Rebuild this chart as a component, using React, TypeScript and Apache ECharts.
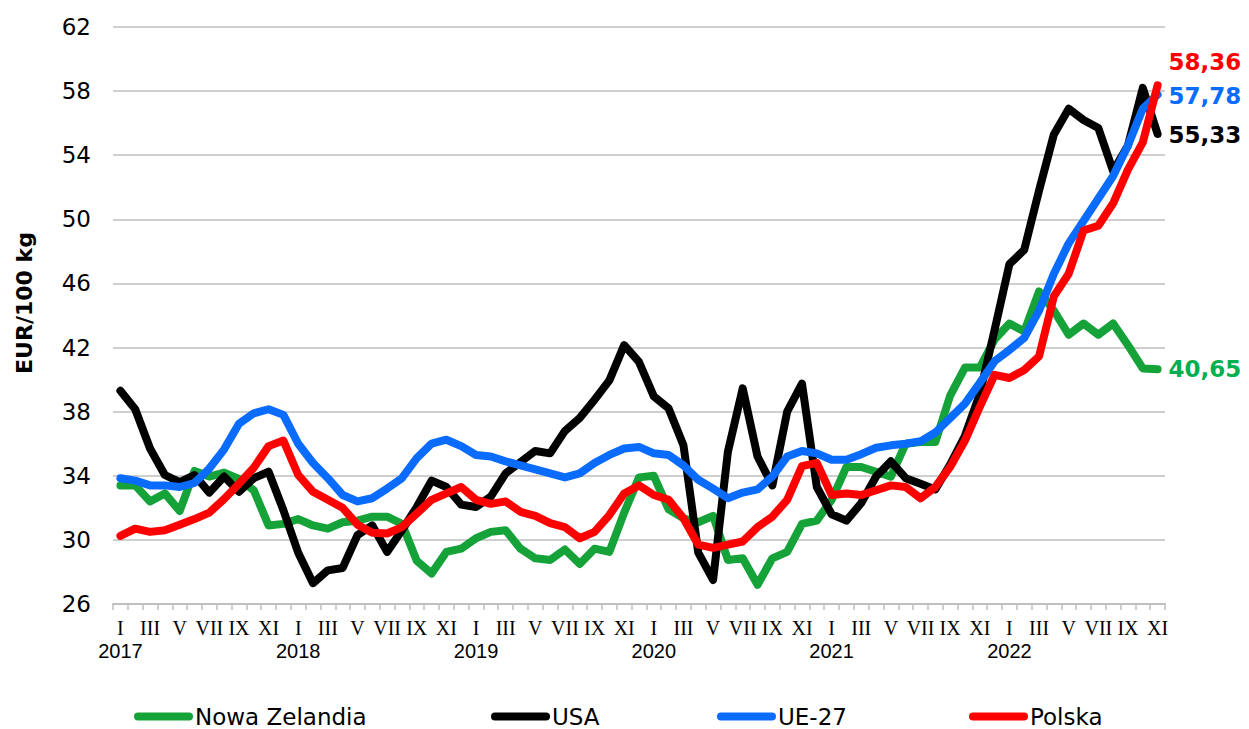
import React, { useEffect, useRef } from 'react';
import * as echarts from 'echarts';

const monthLabels = ['I', 'II', 'III', 'IV', 'V', 'VI', 'VII', 'VIII', 'IX', 'X', 'XI', 'XII'];
const yearLabels = ['2017', '2018', '2019', '2020', '2021', '2022'];
const categories = yearLabels.flatMap((y) => monthLabels.map((m) => `${m} ${y}`)).slice(0, 71);

const seriesNames = ['Nowa Zelandia', 'USA', 'UE-27', 'Polska'];

const nowaZelandia = [
  33.4, 33.4, 32.4, 32.9, 31.8, 34.3, 33.95, 34.2, 33.8, 33.1, 30.9, 31.0,
  31.3, 30.9, 30.7, 31.1, 31.2, 31.45, 31.45, 31.0, 28.7, 27.9, 29.25, 29.45,
  30.1, 30.5, 30.6, 29.45, 28.85, 28.75, 29.4, 28.5, 29.45, 29.25, 31.7, 33.9,
  34.0, 31.9, 31.35, 31.1, 31.5, 28.75, 28.85, 27.2, 28.85, 29.25, 31.0, 31.2,
  32.5, 34.55, 34.55, 34.25, 33.95, 36.0, 36.1, 36.1, 39.0, 40.75, 40.75, 42.5,
  43.5, 43.0, 45.5, 44.3, 42.8, 43.5, 42.8, 43.5, 42.15, 40.7, 40.65,
];

const usa = [
  39.3, 38.15, 35.7, 34.05, 33.6, 34.05, 32.95, 33.95, 33.0, 33.85, 34.25, 31.85,
  29.2, 27.3, 28.1, 28.25, 30.3, 30.9, 29.25, 30.6, 32.05, 33.7, 33.3, 32.2,
  32.05, 32.7, 34.15, 34.85, 35.55, 35.4, 36.8, 37.6, 38.75, 39.95, 42.15, 41.1,
  38.95, 38.2, 35.9, 29.2, 27.5, 35.5, 39.45, 35.2, 33.4, 38.0, 39.75, 33.3,
  31.6, 31.2, 32.3, 33.95, 34.9, 33.85, 33.5, 33.15, 34.7, 36.5, 39.1, 43.1,
  47.2, 48.1, 51.8, 55.3, 56.9, 56.2, 55.7, 53.0, 54.6, 58.2, 55.33,
];

const ue27 = [
  33.85, 33.7, 33.4, 33.4, 33.3, 33.55, 34.45, 35.65, 37.25, 37.9, 38.15, 37.8,
  36.0, 34.8, 33.85, 32.8, 32.4, 32.6, 33.2, 33.85, 35.1, 36.0, 36.25, 35.85,
  35.3, 35.2, 34.9, 34.65, 34.4, 34.15, 33.9, 34.15, 34.8, 35.3, 35.7, 35.8,
  35.4, 35.3, 34.65, 33.75, 33.2, 32.6, 32.95, 33.15, 33.95, 35.2, 35.55, 35.4,
  35.0, 35.0, 35.35, 35.75, 35.9, 36.0, 36.15, 36.7, 37.6, 38.5, 39.8, 41.15,
  41.85, 42.6, 44.3, 46.6, 48.5, 49.9, 51.3, 52.7, 54.6, 56.9, 57.78,
];

const polska = [
  30.25, 30.7, 30.5, 30.6, 30.95, 31.3, 31.7, 32.55, 33.5, 34.5, 35.85, 36.2,
  34.05, 33.0, 32.5, 32.0, 30.95, 30.45, 30.4, 30.8, 31.65, 32.5, 32.9, 33.3,
  32.5, 32.25, 32.4, 31.75, 31.5, 31.05, 30.8, 30.1, 30.5, 31.55, 32.9, 33.4,
  32.8, 32.5, 31.35, 29.7, 29.5, 29.7, 29.9, 30.8, 31.45, 32.5, 34.6, 34.8,
  32.8, 32.9, 32.8, 33.1, 33.4, 33.3, 32.6, 33.3, 34.55, 36.2, 38.3, 40.3,
  40.1, 40.6, 41.45, 45.2, 46.6, 49.3, 49.6, 51.0, 53.1, 54.8, 58.36,
];

const seriesValues = [nowaZelandia, usa, ue27, polska];
const lineColors = ['#14A239', '#000000', '#0A6CFF', '#FF0000'];
const labelColors = ['#00B050', '#000000', '#0A6CFF', '#FF0000'];
const labelOffsets = [[0, 0], [0, 1], [0, 1], [0, -23]];
const legendLefts = [134, 491, 717, 969];

const legendIcon = 'path://M4,0L55,0A4,4,0,0,1,55,8L4,8A4,4,0,0,1,4,0Z';

export default function App() {
  const ref = useRef<HTMLDivElement>(null);

  useEffect(() => {
    document.body.style.margin = '0';
    if (!ref.current) return;
    const chart = echarts.init(ref.current, undefined, { renderer: 'svg' });

    const series = seriesNames.map((name, k) => ({
      name,
      type: 'line',
      xAxisIndex: 0,
      data: seriesValues[k],
      showSymbol: false,
      symbol: 'none',
      lineStyle: { color: lineColors[k], width: 8, cap: 'round', join: 'round' },
      itemStyle: { color: lineColors[k] },
      endLabel: {
        show: true,
        formatter: (p: any) => Number(p.value).toFixed(2).replace('.', ','),
        color: labelColors[k],
        fontFamily: 'DejaVu Sans',
        fontWeight: 'bold',
        fontSize: 23,
        distance: 11,
        offset: labelOffsets[k],
      },
      emphasis: { disabled: true },
    }));

    const legends = seriesNames.map((name, k) => ({
      data: [name],
      left: legendLefts[k],
      top: 705,
      orient: 'horizontal',
      icon: legendIcon,
      itemWidth: 59,
      itemHeight: 8,
      itemGap: 0,
      padding: 0,
      selectedMode: false,
      itemStyle: { color: lineColors[k] },
      textStyle: {
        fontFamily: 'DejaVu Sans',
        fontSize: 23,
        lineHeight: 23,
        color: '#000',
        padding: [0, 0, 0, -3],
      },
    }));

    chart.setOption({
      animation: false,
      backgroundColor: '#ffffff',
      grid: { left: 113, right: 84, top: 27, bottom: 125, containLabel: false },
      legend: legends,
      graphic: [
        {
          type: 'text',
          x: 24,
          y: 303,
          rotation: Math.PI / 2,
          style: {
            text: 'EUR/100 kg',
            fontFamily: 'DejaVu Sans',
            fontWeight: 'bold',
            fontSize: 22,
            fill: '#000',
            textAlign: 'center',
            textVerticalAlign: 'middle',
          },
        },
      ],
      xAxis: [
        {
          type: 'category',
          data: categories,
          boundaryGap: true,
          axisLine: { show: true, lineStyle: { color: '#bfbfbf', width: 2 } },
          axisTick: { show: true, interval: 0, length: 6, lineStyle: { color: '#bfbfbf', width: 1.5 } },
          splitLine: { show: false },
          axisLabel: {
            interval: 1,
            margin: 12,
            showMinLabel: true,
            showMaxLabel: true,
            formatter: (value: string) => value.split(' ')[0],
            fontFamily: 'Liberation Serif',
            fontSize: 20,
            lineHeight: 23,
            color: '#000',
          },
        },
        {
          type: 'category',
          data: categories,
          position: 'bottom',
          boundaryGap: true,
          axisLine: { show: false },
          axisTick: { show: false },
          splitLine: { show: false },
          axisLabel: {
            interval: (index: number) => index % 12 === 0,
            margin: 35,
            formatter: (value: string) => value.split(' ')[1],
            fontFamily: 'Liberation Sans',
            fontSize: 20,
            lineHeight: 23,
            color: '#000',
          },
        },
      ],
      yAxis: {
        type: 'value',
        min: 26,
        max: 62,
        interval: 4,
        axisLine: { show: false },
        axisTick: { show: false },
        axisLabel: { fontFamily: 'DejaVu Sans', fontSize: 23, color: '#000', margin: 22 },
        splitLine: { show: true, lineStyle: { color: '#bfbfbf', width: 1.5 } },
      },
      series,
    });

    return () => chart.dispose();
  }, []);

  return <div ref={ref} style={{ width: 1249, height: 729 }} />;
}
